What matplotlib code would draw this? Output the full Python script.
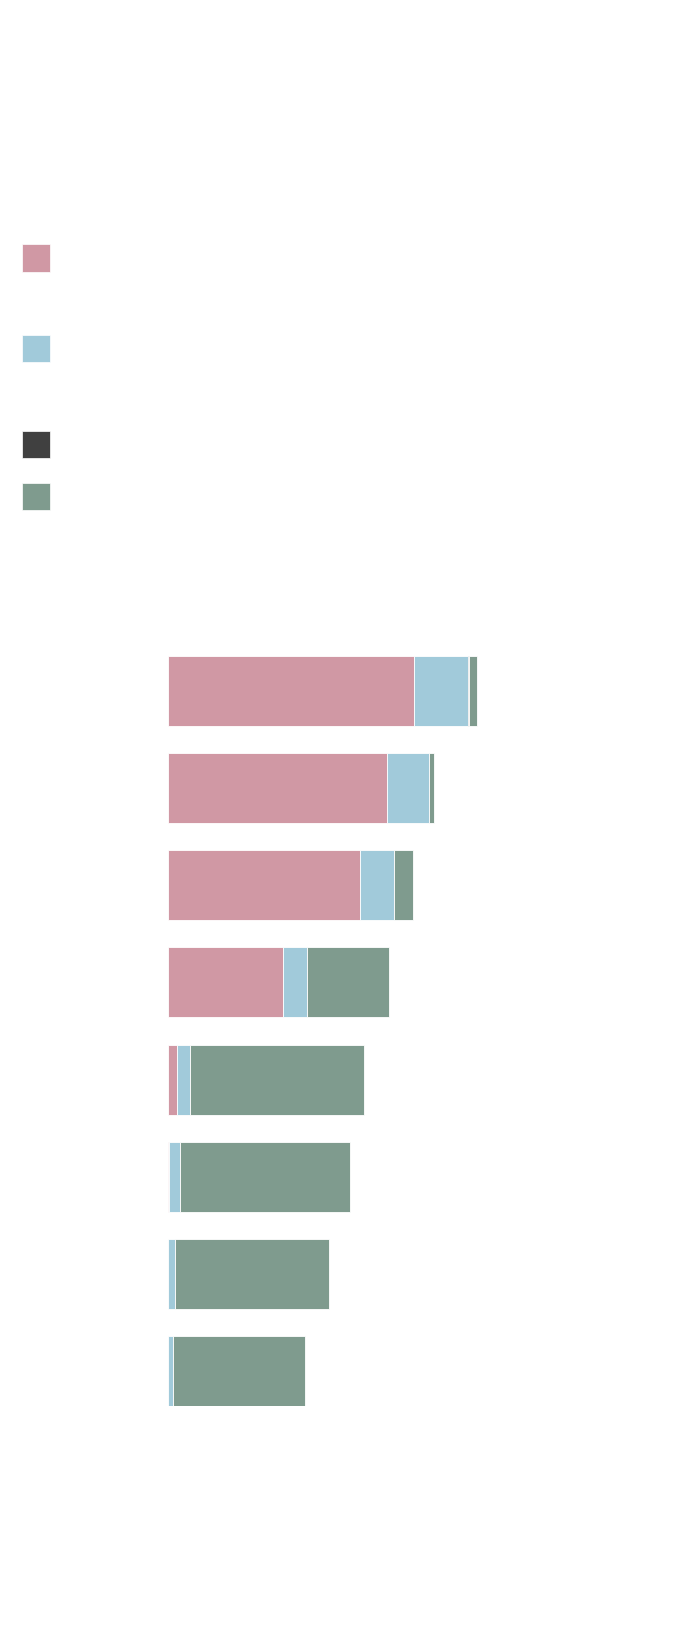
import matplotlib
matplotlib.use("Agg")
import matplotlib.pyplot as plt
import numpy as np
from matplotlib.patches import Rectangle

# data (no labels are shown in the chart)
rows = np.arange(8)
pink = [245.5, 219.0, 192.0, 115.0, 9.0, 1.0, 0.0, 0.0]
blue = [54.5, 41.5, 34.3, 24.0, 13.3, 11.3, 6.7, 4.7]
dark = [1.0, 0.5, 0.0, 0.0, 0.0, 0.0, 0.0, 0.0]
green = [8.0, 5.3, 18.4, 81.7, 174.0, 169.7, 154.6, 132.6]

series = [pink, blue, dark, green]
colors = ["#D098A4", "#A1CADA", "#404040", "#7F9B8E"]

W, H = 700, 1630
fig = plt.figure(figsize=(W / 100, H / 100), dpi=100)
fig.patch.set_facecolor("white")

# axes placed so the bars land where they sit in the reference
ax = fig.add_axes([168 / W, (H - 1406) / H, 500 / W, 750 / H])
left = np.zeros(len(rows))
for vals, c in zip(series, colors):
    ax.barh(rows, vals, left=left, height=0.72, color=c,
            edgecolor="white", linewidth=0.6)
    left += np.array(vals)

ax.set_xlim(0, 500)
ax.set_ylim(7.36, -0.36)
ax.axis("off")

# legend swatches without text
swatch_y = [244.5, 335.0, 430.7, 482.7]
for y, c in zip(swatch_y, colors):
    fig.add_artist(Rectangle((22 / W, (H - y - 27) / H), 28 / W, 27 / H,
                             transform=fig.transFigure, facecolor=c,
                             edgecolor="white", linewidth=0.5))

plt.savefig("out.png", dpi=100, facecolor="white")
